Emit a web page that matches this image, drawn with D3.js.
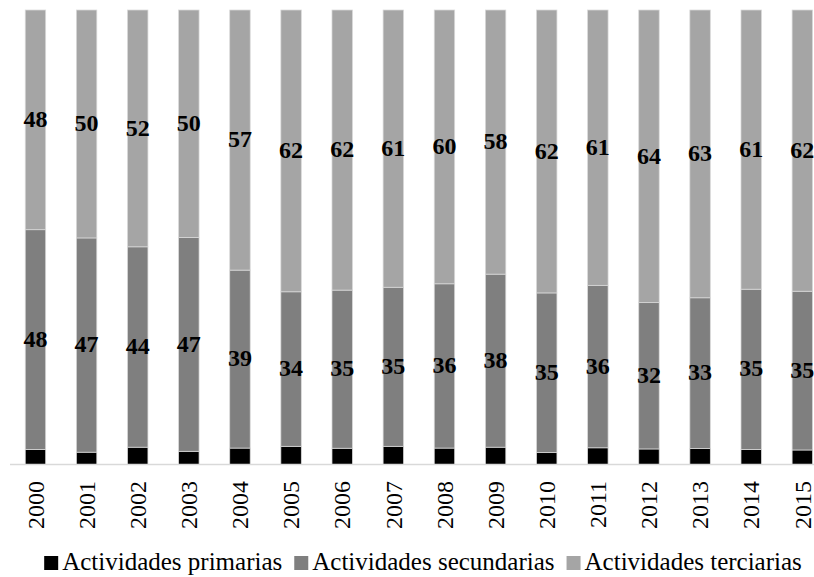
<!DOCTYPE html>
<html>
<head>
<meta charset="utf-8">
<script src="https://cdn.jsdelivr.net/npm/d3@7"></script>
</head>
<body style="margin:0;background:#fff">
<svg id="sectores" width="814" height="577" style="display:block"></svg>
<script>
// Years on the category axis
const years = ["2000","2001","2002","2003","2004","2005","2006","2007",
               "2008","2009","2010","2011","2012","2013","2014","2015"];

// Share of each sector (%)
const primarias   = [3.3, 2.7, 3.8, 2.9, 3.6, 4.0, 3.6, 4.0, 3.6, 3.8, 2.6, 3.7, 3.4, 3.5, 3.3, 3.2];
const secundarias = [48, 47, 44, 47, 39, 34, 35, 35, 36, 38, 35, 36, 32, 33, 35, 35];
const terciarias  = [48, 50, 52, 50, 57, 62, 62, 61, 60, 58, 62, 61, 64, 63, 61, 62];

const seriesNames = ["Actividades primarias", "Actividades secundarias", "Actividades terciarias"];
const seriesColors = ["#000000", "#7f7f7f", "#a5a5a5"];
const keys = ["primarias", "secundarias", "terciarias"];
const FONT = "Times New Roman, serif";

const rows = years.map((yr, i) => ({
  year: yr,
  primarias: primarias[i],
  secundarias: secundarias[i],
  terciarias: terciarias[i]
}));

const svg = d3.select("#sectores").attr("font-family", FONT);

const x = d3.scaleBand()
  .domain(years)
  .range([9.9, 827.9])
  .paddingInner(0.6)
  .paddingOuter(0.3);

const y = d3.scaleLinear().domain([0, 1]).range([464.5, 10]);

// 100% stacked layout
const stacked = d3.stack()
  .keys(keys)
  .offset(d3.stackOffsetExpand)(rows);

const layers = svg.append("g").selectAll("g")
  .data(stacked)
  .join("g")
  .attr("fill", (d, i) => seriesColors[i]);

layers.selectAll("rect")
  .data(d => d)
  .join("rect")
  .attr("x", d => x(d.data.year))
  .attr("width", x.bandwidth())
  .attr("y", d => y(d[1]))
  .attr("height", d => y(d[0]) - y(d[1]))
  .attr("stroke", "#d9d9d9")
  .attr("stroke-width", 0.75);

// Category axis line
svg.append("line")
  .attr("x1", 10).attr("x2", 814)
  .attr("y1", y(0)).attr("y2", y(0))
  .attr("stroke", "#d9d9d9")
  .attr("stroke-width", 1.5);

// Year labels, rotated
svg.append("g").selectAll("text")
  .data(x.domain())
  .join("text")
  .attr("font-family", FONT)
  .attr("font-size", 24)
  .attr("fill", "#000")
  .attr("text-anchor", "end")
  .attr("transform", d => `translate(${x(d) + x.bandwidth() / 2},${y(0) + 16.5}) rotate(-90)`)
  .attr("dy", "0.34em")
  .text(d => d);

// Value labels for the secondary and tertiary segments
[1, 2].forEach(k => {
  svg.append("g").selectAll("text")
    .data(stacked[k])
    .join("text")
    .attr("font-family", FONT)
    .attr("x", d => x(d.data.year) + x.bandwidth() / 2)
    .attr("y", d => (y(d[0]) + y(d[1])) / 2)
    .attr("dy", "0.3em")
    .attr("text-anchor", "middle")
    .attr("font-size", 24)
    .attr("font-weight", "bold")
    .attr("fill", "#000")
    .text(d => d.data[keys[k]]);
});

// Legend
const legend = svg.append("g");
const items = legend.selectAll("g")
  .data(seriesNames)
  .join("g");
items.append("rect")
  .attr("width", 14).attr("height", 14)
  .attr("y", -14)
  .attr("fill", (d, i) => seriesColors[i]);
items.append("text")
  .attr("font-family", FONT)
  .attr("x", 18)
  .attr("y", 0)
  .attr("font-size", 25)
  .attr("fill", "#000")
  .text(d => d);

const gap = 12;
const widths = [];
items.each(function () {
  widths.push(18 + this.querySelector("text").getComputedTextLength());
});
const total = d3.sum(widths) + gap * (widths.length - 1);
let start = 423 - total / 2;
items.attr("transform", (d, i) => {
  const tx = start;
  start += widths[i] + gap;
  return `translate(${tx},570)`;
});
</script>
</body>
</html>
